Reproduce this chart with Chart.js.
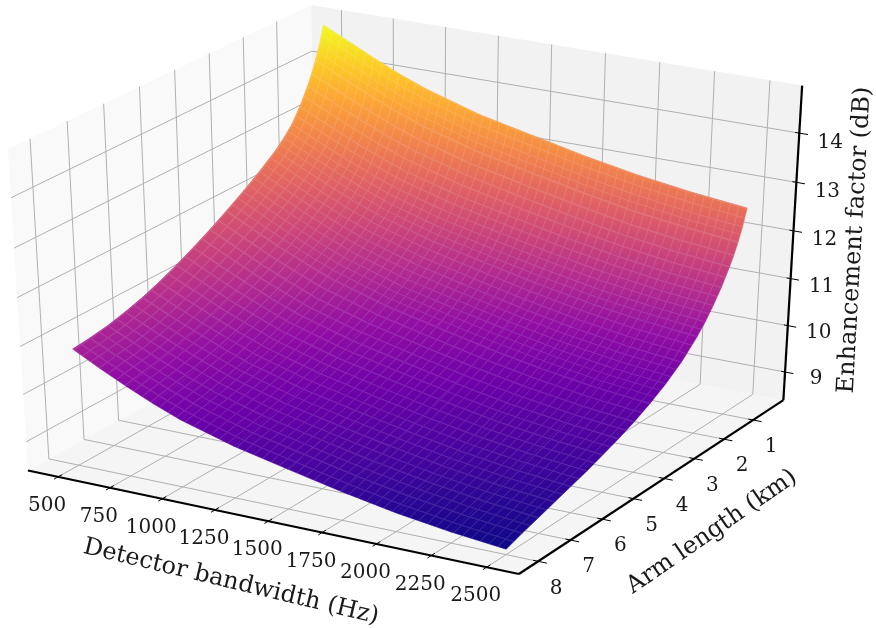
<!DOCTYPE html>
<html>
<head>
<meta charset="utf-8">
<title>Enhancement factor</title>
<script src="https://cdn.jsdelivr.net/npm/chart.js@4"></script>
<style>
html, body { margin: 0; padding: 0; background: #fff; }
canvas { display: block; }
</style>
</head>
<body>
<canvas id="surface" width="876" height="628"></canvas>
<script>
// Values
const bandwidths = [500, 625, 750, 875, 1000, 1250, 1500, 1750, 2000, 2250, 2500];
const armLengths = [0.5, 0.625, 0.75, 0.875, 1, 1.25, 1.5, 1.75, 2, 2.5, 3, 3.5, 4, 4.5, 5, 5.5, 6, 6.5, 7, 7.5, 8];
const arm0500 = [14.82, 14.56, 14.30, 14.06, 13.85, 13.52, 13.28, 13.04, 12.84, 12.68, 12.56];
const arm0625 = [14.48, 14.22, 13.96, 13.72, 13.51, 13.18, 12.94, 12.70, 12.50, 12.34, 12.22];
const arm0750 = [14.2, 13.94, 13.68, 13.45, 13.24, 12.91, 12.67, 12.44, 12.23, 12.08, 11.96];
const arm0875 = [13.96, 13.70, 13.45, 13.21, 13.0, 12.68, 12.44, 12.21, 12.0, 11.85, 11.73];
const arm1000 = [13.75, 13.49, 13.24, 13.01, 12.80, 12.48, 12.24, 12.01, 11.81, 11.65, 11.54];
const arm1250 = [13.4, 13.14, 12.89, 12.66, 12.45, 12.14, 11.90, 11.67, 11.47, 11.31, 11.2];
const arm1500 = [13.12, 12.86, 12.61, 12.38, 12.17, 11.86, 11.62, 11.39, 11.19, 11.03, 10.92];
const arm1750 = [12.92, 12.66, 12.40, 12.17, 11.95, 11.63, 11.38, 11.15, 10.94, 10.79, 10.67];
const arm2000 = [12.75, 12.48, 12.22, 11.98, 11.77, 11.44, 11.19, 10.95, 10.74, 10.58, 10.46];
const arm2500 = [12.48, 12.20, 11.94, 11.69, 11.47, 11.13, 10.87, 10.62, 10.41, 10.24, 10.12];
const arm3000 = [12.24, 11.96, 11.69, 11.44, 11.22, 10.87, 10.61, 10.37, 10.15, 9.98, 9.86];
const arm3500 = [12.02, 11.74, 11.47, 11.23, 11.0, 10.66, 10.40, 10.15, 9.94, 9.77, 9.65];
const arm4000 = [11.81, 11.54, 11.27, 11.03, 10.80, 10.47, 10.21, 9.97, 9.76, 9.59, 9.47];
const arm4500 = [11.62, 11.35, 11.09, 10.85, 10.63, 10.30, 10.05, 9.81, 9.60, 9.44, 9.32];
const arm5000 = [11.44, 11.18, 10.92, 10.69, 10.47, 10.15, 9.90, 9.67, 9.46, 9.31, 9.19];
const arm5500 = [11.28, 11.02, 10.77, 10.54, 10.33, 10.01, 9.76, 9.53, 9.33, 9.18, 9.06];
const arm6000 = [11.14, 10.88, 10.64, 10.41, 10.2, 9.88, 9.64, 9.42, 9.22, 9.06, 8.95];
const arm6500 = [11.03, 10.77, 10.53, 10.30, 10.09, 9.77, 9.53, 9.31, 9.11, 8.95, 8.84];
const arm7000 = [10.94, 10.68, 10.43, 10.20, 9.99, 9.67, 9.43, 9.20, 9.0, 8.84, 8.73];
const arm7500 = [10.88, 10.62, 10.36, 10.12, 9.91, 9.58, 9.34, 9.10, 8.90, 8.74, 8.62];
const arm8000 = [10.84, 10.55, 10.28, 10.03, 9.81, 9.48, 9.23, 8.99, 8.78, 8.62, 8.5];
const enhancement = [arm0500, arm0625, arm0750, arm0875, arm1000, arm1250, arm1500, arm1750, arm2000, arm2500, arm3000, arm3500, arm4000, arm4500, arm5000, arm5500, arm6000, arm6500, arm7000, arm7500, arm8000];

const xTicks = [500, 750, 1000, 1250, 1500, 1750, 2000, 2250, 2500];
const yTicks = [1, 2, 3, 4, 5, 6, 7, 8];
const zTicks = [9, 10, 11, 12, 13, 14];

const plasma = [[13,8,135],[65,4,157],[106,0,168],[143,13,164],[177,42,144],[204,71,120],[225,100,98],[242,132,75],[252,166,54],[252,206,37],[240,249,33]];
const zLow = 8.5, zHigh = 14.82;

function plasmaColor(z) {
    const t = Math.min(1, Math.max(0, (z - zLow) / (zHigh - zLow))) * 10;
    const i = Math.min(9, Math.floor(t));
    const c = plasma[i].map((v, k) => Math.round(v + (plasma[i + 1][k] - v) * (t - i)));
    return `rgb(${c[0]},${c[1]},${c[2]})`;
}

// Same camera as a default 3D axes: elevation 30, azimuth -60, unit box, distance 10.
// nx, ny, nz run from 0 to 1 across the panes; ny = 0 is the front.
const E = Math.PI / 6, A = -Math.PI / 3;
const W = [Math.cos(E) * Math.cos(A), Math.cos(E) * Math.sin(A), Math.sin(E)];
const U = [-Math.sin(A), Math.cos(A), 0];
const V = [W[1] * U[2] - W[2] * U[1], W[2] * U[0] - W[0] * U[2], W[0] * U[1] - W[1] * U[0]];
const dot = (a, b) => a[0] * b[0] + a[1] * b[1] + a[2] * b[2];

function project(nx, ny, nz) {
    const q = [nx - 0.5, ny - 0.5, nz - 0.5];
    const d = 10 - dot(q, W);
    return { x: 411.5 + 5667 * dot(q, U) / d, y: 279.8 - 3669 * dot(q, V) / d };
}

const normX = bw => 0.064 + (bw - 500) * 0.873 / 2000;
const normY = arm => 0.068 + (8 - arm) * 0.868 / 7.5;
const normZ = z => 0.0936 + (z - 9) * 0.1523;

const ctx = document.getElementById('surface').getContext('2d');
const datasets = [];   // pushed in painting order, back to front

function addLine(points, color, width) {
    datasets.push({ data: points, showLine: true, borderColor: color, borderWidth: width, pointRadius: 0, tension: 0, fill: false, clip: false });
}

function addPolygon(points, fillColor, edgeColor, edgeWidth) {
    datasets.push({ data: points.concat([points[0]]), showLine: true, backgroundColor: fillColor, borderColor: edgeColor, borderWidth: edgeWidth, pointRadius: 0, tension: 0, fill: 'shape', clip: false });
}

// panes
addPolygon([project(0,0,0), project(1,0,0), project(1,1,0), project(0,1,0)], 'rgb(245,245,245)', 'rgba(0,0,0,0)', 0);
addPolygon([project(0,0,0), project(0,1,0), project(0,1,1), project(0,0,1)], 'rgb(249,249,249)', 'rgba(0,0,0,0)', 0);
addPolygon([project(0,1,0), project(1,1,0), project(1,1,1), project(0,1,1)], 'rgb(242,242,242)', 'rgba(0,0,0,0)', 0);

// grid
const gridColor = 'rgb(176,176,176)';
xTicks.forEach(v => {
    const n = normX(v);
    addLine([project(n,0,0), project(n,1,0), project(n,1,1)], gridColor, 1);
});
yTicks.forEach(v => {
    const n = normY(v);
    addLine([project(1,n,0), project(0,n,0), project(0,n,1)], gridColor, 1);
});
zTicks.forEach(v => {
    const n = normZ(v);
    addLine([project(0,0,n), project(0,1,n), project(1,1,n)], gridColor, 1);
});

// faint seam texture of the mesh, one tile per mesh cell
const tile = document.createElement('canvas');
tile.width = tile.height = 16;
const tileCtx = tile.getContext('2d');
tileCtx.fillStyle = 'rgba(255,255,255,0.11)';
tileCtx.fillRect(0, 0, 16, 2);
tileCtx.fillRect(0, 2, 2, 14);
const meshBw = 40, meshPx = 10;

// surface cells, far arm first
for (let r = 0; r < armLengths.length - 1; r++) {
    const rowCorners = bandwidths.map((bw, j) => [r, r + 1].map(i =>
        project(normX(bw), normY(armLengths[i]), normZ(enhancement[i][j]))));
    const rowLen = rowCorners.reduce((s, [a, b]) => s + Math.hypot(b.x - a.x, b.y - a.y), 0) / rowCorners.length;
    const nArm = Math.max(1, Math.round(rowLen / meshPx));

    for (let c = 0; c < bandwidths.length - 1; c++) {
        const corners = [[r, c], [r, c + 1], [r + 1, c + 1], [r + 1, c]].map(([i, j]) => {
            const z = enhancement[i][j];
            return { p: project(normX(bandwidths[j]), normY(armLengths[i]), normZ(z)), z: z };
        });
        // gradient follows the screen slope of z across the cell
        const cx = corners.reduce((s, k) => s + k.p.x, 0) / 4;
        const cy = corners.reduce((s, k) => s + k.p.y, 0) / 4;
        const cz = corners.reduce((s, k) => s + k.z, 0) / 4;
        const ax = ((corners[1].p.x + corners[2].p.x) - (corners[0].p.x + corners[3].p.x)) / 2;
        const ay = ((corners[1].p.y + corners[2].p.y) - (corners[0].p.y + corners[3].p.y)) / 2;
        const az = ((corners[1].z + corners[2].z) - (corners[0].z + corners[3].z)) / 2;
        const bx = ((corners[2].p.x + corners[3].p.x) - (corners[0].p.x + corners[1].p.x)) / 2;
        const by = ((corners[2].p.y + corners[3].p.y) - (corners[0].p.y + corners[1].p.y)) / 2;
        const bz = ((corners[2].z + corners[3].z) - (corners[0].z + corners[1].z)) / 2;
        const det = ax * by - ay * bx;
        const gx = (az * by - bz * ay) / det;
        const gy = (bz * ax - az * bx) / det;
        const g2 = gx * gx + gy * gy;
        const zs = corners.map(k => k.z);
        const lo = Math.min(...zs), hi = Math.max(...zs);
        const grad = ctx.createLinearGradient(
            cx + gx * (lo - cz) / g2, cy + gy * (lo - cz) / g2,
            cx + gx * (hi - cz) / g2, cy + gy * (hi - cz) / g2);
        for (let s = 0; s <= 4; s++) grad.addColorStop(s / 4, plasmaColor(lo + (hi - lo) * s / 4));
        addPolygon(corners.map(k => k.p), grad, plasmaColor(cz), 0.6);

        // mesh texture stretched onto the same cell
        const nBw = (bandwidths[c + 1] - bandwidths[c]) / meshBw;
        const phaseBw = ((bandwidths[c] - 500) / meshBw) % 1;
        const pattern = ctx.createPattern(tile, 'repeat');
        pattern.setTransform(new DOMMatrix([
            ax / nBw / 16, ay / nBw / 16, bx / nArm / 16, by / nArm / 16,
            corners[0].p.x - phaseBw * ax / nBw,
            corners[0].p.y - phaseBw * ay / nBw]));
        addPolygon(corners.map(k => k.p), pattern, 'rgba(0,0,0,0)', 0);
    }
}

// axis lines and tick marks
const black = 'rgb(0,0,0)';
xTicks.forEach(v => { const n = normX(v); addLine([project(n,-0.013,0), project(n,0.013,0)], black, 1); });
yTicks.forEach(v => { const n = normY(v); addLine([project(1.017,n,0), project(0.99,n,0)], black, 1); });
zTicks.forEach(v => { const n = normZ(v); addLine([project(1.017,1,n), project(0.992,1,n)], black, 1); });
addLine([project(0,0,0), project(1,0,0)], black, 2.2);
addLine([project(1,0,0), project(1,1,0)], black, 2.2);
addLine([project(1,1,0), project(1,1,1)], black, 2.2);

const axisText = {
    id: 'axisText',
    afterDraw(chart) {
        const c = chart.ctx;
        c.save();
        c.fillStyle = '#1a1a1a';
        c.textAlign = 'center';
        c.textBaseline = 'middle';
        c.font = '20px "DejaVu Serif"';
        xTicks.forEach(v => { const p = project(normX(v), 0, 0); c.fillText(String(v), p.x - 11, p.y + 29); });
        yTicks.forEach(v => { const p = project(1, normY(v), 0); c.fillText(String(v), p.x + 18, p.y + 27); });
        zTicks.forEach(v => { const p = project(1, 1, normZ(v)); c.fillText(String(v), p.x + 31, p.y + 7 + (v - 9) * 0.6); });
        c.font = '24px "DejaVu Serif"';
        [['Detector bandwidth (Hz)', 231, 582, 13.5], ['Arm length (km)', 712, 532, -34.5], ['Enhancement factor (dB)', 855, 240, -86.8]].forEach(([label, x, y, deg]) => {
            c.save();
            c.translate(x, y);
            c.rotate(deg * Math.PI / 180);
            c.fillText(label, 0, 0);
            c.restore();
        });
        c.restore();
    }
};

new Chart(ctx, {
    type: 'scatter',
    data: { datasets: datasets.reverse() },
    options: {
        responsive: false,
        animation: false,
        events: [],
        layout: { padding: 0 },
        plugins: { legend: { display: false }, tooltip: { enabled: false } },
        scales: {
            x: { type: 'linear', min: 0, max: 876, display: false },
            y: { type: 'linear', min: 0, max: 628, reverse: true, display: false }
        }
    },
    plugins: [axisText]
});
</script>
</body>
</html>
